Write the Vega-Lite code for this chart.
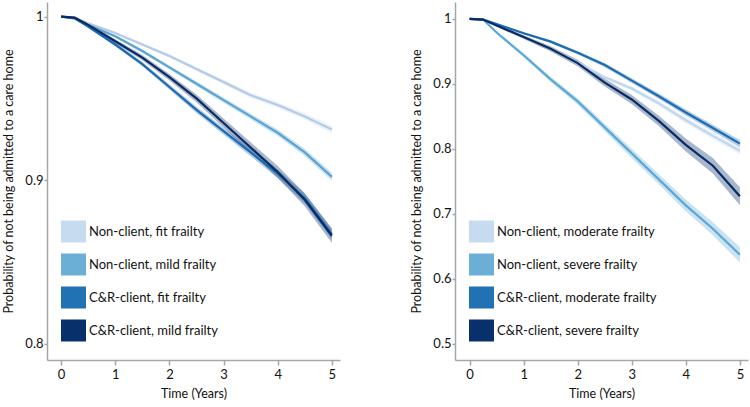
{
  "$schema": "https://vega.github.io/schema/vega-lite/v6.json",
  "padding": {"left": 2, "top": 2, "right": 2, "bottom": 2},
  "background": "white",
  "config": {
    "view": {"stroke": null},
    "font": "Lato",
    "axis": {
      "grid": false,
      "domainColor": "#a6a6a6",
      "domainWidth": 1.5,
      "tickColor": "#a6a6a6",
      "tickWidth": 1.5,
      "labelFont": "Lato",
      "labelFontSize": 13,
      "labelColor": "#111111",
      "titleFont": "Lato",
      "titleFontSize": 12.5,
      "titleFontWeight": "normal",
      "titleColor": "#111111"
    },
    "legend": {
      "orient": "bottom-left",
      "offset": 18,
      "padding": 0,
      "title": null,
      "symbolType": "M-1,-0.88H1V0.88H-1Z",
      "symbolSize": 625,
      "symbolStrokeWidth": 0,
      "symbolOffset": -4,
      "symbolOpacity": 1,
      "labelFont": "Lato",
      "labelFontSize": 13,
      "labelLimit": 300,
      "labelColor": "#111111",
      "labelOffset": 3,
      "rowPadding": 9
    }
  },
  "datasets": {
    "left": [
      {"t": 0, "v": 1, "lo": 1, "hi": 1, "g": "Non-client, fit frailty"},
      {"t": 0.25, "v": 0.9995, "lo": 0.9992, "hi": 0.9998, "g": "Non-client, fit frailty"},
      {"t": 0.5, "v": 0.996, "lo": 0.9955, "hi": 0.9965, "g": "Non-client, fit frailty"},
      {"t": 1, "v": 0.990, "lo": 0.9893, "hi": 0.9907, "g": "Non-client, fit frailty"},
      {"t": 1.5, "v": 0.983, "lo": 0.9821, "hi": 0.9839, "g": "Non-client, fit frailty"},
      {"t": 2, "v": 0.976, "lo": 0.9749, "hi": 0.9771, "g": "Non-client, fit frailty"},
      {"t": 2.5, "v": 0.968, "lo": 0.9667, "hi": 0.9693, "g": "Non-client, fit frailty"},
      {"t": 3, "v": 0.960, "lo": 0.9586, "hi": 0.9614, "g": "Non-client, fit frailty"},
      {"t": 3.5, "v": 0.952, "lo": 0.9504, "hi": 0.9536, "g": "Non-client, fit frailty"},
      {"t": 4, "v": 0.946, "lo": 0.9443, "hi": 0.9477, "g": "Non-client, fit frailty"},
      {"t": 4.5, "v": 0.939, "lo": 0.9371, "hi": 0.9409, "g": "Non-client, fit frailty"},
      {"t": 5, "v": 0.931, "lo": 0.9289, "hi": 0.9331, "g": "Non-client, fit frailty"},
      {"t": 0, "v": 1, "lo": 1, "hi": 1, "g": "Non-client, mild frailty"},
      {"t": 0.25, "v": 0.9993, "lo": 0.999, "hi": 0.9996, "g": "Non-client, mild frailty"},
      {"t": 0.5, "v": 0.995, "lo": 0.9945, "hi": 0.9955, "g": "Non-client, mild frailty"},
      {"t": 1, "v": 0.988, "lo": 0.9872, "hi": 0.9888, "g": "Non-client, mild frailty"},
      {"t": 1.5, "v": 0.979, "lo": 0.978, "hi": 0.980, "g": "Non-client, mild frailty"},
      {"t": 2, "v": 0.969, "lo": 0.9678, "hi": 0.9702, "g": "Non-client, mild frailty"},
      {"t": 2.5, "v": 0.959, "lo": 0.9576, "hi": 0.9604, "g": "Non-client, mild frailty"},
      {"t": 3, "v": 0.949, "lo": 0.9474, "hi": 0.9506, "g": "Non-client, mild frailty"},
      {"t": 3.5, "v": 0.939, "lo": 0.9372, "hi": 0.9408, "g": "Non-client, mild frailty"},
      {"t": 4, "v": 0.929, "lo": 0.927, "hi": 0.931, "g": "Non-client, mild frailty"},
      {"t": 4.5, "v": 0.917, "lo": 0.9148, "hi": 0.9192, "g": "Non-client, mild frailty"},
      {"t": 5, "v": 0.902, "lo": 0.8995, "hi": 0.9045, "g": "Non-client, mild frailty"},
      {"t": 0, "v": 1, "lo": 1, "hi": 1, "g": "C&R-client, fit frailty"},
      {"t": 0.25, "v": 0.999, "lo": 0.9986, "hi": 0.9994, "g": "C&R-client, fit frailty"},
      {"t": 0.5, "v": 0.994, "lo": 0.9933, "hi": 0.9947, "g": "C&R-client, fit frailty"},
      {"t": 1, "v": 0.983, "lo": 0.982, "hi": 0.984, "g": "C&R-client, fit frailty"},
      {"t": 1.5, "v": 0.971, "lo": 0.9697, "hi": 0.9723, "g": "C&R-client, fit frailty"},
      {"t": 2, "v": 0.957, "lo": 0.9554, "hi": 0.9586, "g": "C&R-client, fit frailty"},
      {"t": 2.5, "v": 0.943, "lo": 0.9411, "hi": 0.9449, "g": "C&R-client, fit frailty"},
      {"t": 3, "v": 0.930, "lo": 0.9279, "hi": 0.9321, "g": "C&R-client, fit frailty"},
      {"t": 3.5, "v": 0.917, "lo": 0.9146, "hi": 0.9194, "g": "C&R-client, fit frailty"},
      {"t": 4, "v": 0.904, "lo": 0.9014, "hi": 0.9066, "g": "C&R-client, fit frailty"},
      {"t": 4.5, "v": 0.889, "lo": 0.8861, "hi": 0.8919, "g": "C&R-client, fit frailty"},
      {"t": 5, "v": 0.867, "lo": 0.8638, "hi": 0.8702, "g": "C&R-client, fit frailty"},
      {"t": 0, "v": 1, "lo": 1, "hi": 1, "g": "C&R-client, mild frailty"},
      {"t": 0.25, "v": 0.9994, "lo": 0.9989, "hi": 0.9999, "g": "C&R-client, mild frailty"},
      {"t": 0.5, "v": 0.995, "lo": 0.9942, "hi": 0.9958, "g": "C&R-client, mild frailty"},
      {"t": 1, "v": 0.985, "lo": 0.9838, "hi": 0.9862, "g": "C&R-client, mild frailty"},
      {"t": 1.5, "v": 0.975, "lo": 0.9734, "hi": 0.9766, "g": "C&R-client, mild frailty"},
      {"t": 2, "v": 0.963, "lo": 0.961, "hi": 0.965, "g": "C&R-client, mild frailty"},
      {"t": 2.5, "v": 0.950, "lo": 0.9476, "hi": 0.9524, "g": "C&R-client, mild frailty"},
      {"t": 3, "v": 0.935, "lo": 0.9322, "hi": 0.9378, "g": "C&R-client, mild frailty"},
      {"t": 3.5, "v": 0.920, "lo": 0.9168, "hi": 0.9232, "g": "C&R-client, mild frailty"},
      {"t": 4, "v": 0.905, "lo": 0.9014, "hi": 0.9086, "g": "C&R-client, mild frailty"},
      {"t": 4.5, "v": 0.888, "lo": 0.884, "hi": 0.892, "g": "C&R-client, mild frailty"},
      {"t": 5, "v": 0.866, "lo": 0.8615, "hi": 0.8705, "g": "C&R-client, mild frailty"}
    ],
    "right": [
      {"t": 0, "v": 1, "lo": 1, "hi": 1, "g": "Non-client, moderate frailty"},
      {"t": 0.25, "v": 0.999, "lo": 0.9985, "hi": 0.9995, "g": "Non-client, moderate frailty"},
      {"t": 0.5, "v": 0.990, "lo": 0.989, "hi": 0.991, "g": "Non-client, moderate frailty"},
      {"t": 1, "v": 0.972, "lo": 0.9705, "hi": 0.9735, "g": "Non-client, moderate frailty"},
      {"t": 1.5, "v": 0.954, "lo": 0.952, "hi": 0.956, "g": "Non-client, moderate frailty"},
      {"t": 2, "v": 0.933, "lo": 0.9305, "hi": 0.9355, "g": "Non-client, moderate frailty"},
      {"t": 2.5, "v": 0.910, "lo": 0.907, "hi": 0.913, "g": "Non-client, moderate frailty"},
      {"t": 3, "v": 0.893, "lo": 0.8895, "hi": 0.8965, "g": "Non-client, moderate frailty"},
      {"t": 3.5, "v": 0.870, "lo": 0.866, "hi": 0.874, "g": "Non-client, moderate frailty"},
      {"t": 4, "v": 0.844, "lo": 0.8395, "hi": 0.8485, "g": "Non-client, moderate frailty"},
      {"t": 4.5, "v": 0.820, "lo": 0.815, "hi": 0.825, "g": "Non-client, moderate frailty"},
      {"t": 5, "v": 0.797, "lo": 0.7915, "hi": 0.8025, "g": "Non-client, moderate frailty"},
      {"t": 0, "v": 1, "lo": 1, "hi": 1, "g": "Non-client, severe frailty"},
      {"t": 0.25, "v": 0.999, "lo": 0.998, "hi": 1, "g": "Non-client, severe frailty"},
      {"t": 0.5, "v": 0.979, "lo": 0.977, "hi": 0.981, "g": "Non-client, severe frailty"},
      {"t": 1, "v": 0.944, "lo": 0.941, "hi": 0.947, "g": "Non-client, severe frailty"},
      {"t": 1.5, "v": 0.907, "lo": 0.903, "hi": 0.911, "g": "Non-client, severe frailty"},
      {"t": 2, "v": 0.873, "lo": 0.868, "hi": 0.878, "g": "Non-client, severe frailty"},
      {"t": 2.5, "v": 0.833, "lo": 0.827, "hi": 0.839, "g": "Non-client, severe frailty"},
      {"t": 3, "v": 0.793, "lo": 0.786, "hi": 0.800, "g": "Non-client, severe frailty"},
      {"t": 3.5, "v": 0.753, "lo": 0.745, "hi": 0.761, "g": "Non-client, severe frailty"},
      {"t": 4, "v": 0.713, "lo": 0.704, "hi": 0.722, "g": "Non-client, severe frailty"},
      {"t": 4.5, "v": 0.677, "lo": 0.667, "hi": 0.687, "g": "Non-client, severe frailty"},
      {"t": 5, "v": 0.637, "lo": 0.625, "hi": 0.649, "g": "Non-client, severe frailty"},
      {"t": 0, "v": 1, "lo": 1, "hi": 1, "g": "C&R-client, moderate frailty"},
      {"t": 0.25, "v": 0.999, "lo": 0.9985, "hi": 0.9995, "g": "C&R-client, moderate frailty"},
      {"t": 0.5, "v": 0.992, "lo": 0.991, "hi": 0.993, "g": "C&R-client, moderate frailty"},
      {"t": 1, "v": 0.978, "lo": 0.9765, "hi": 0.9795, "g": "C&R-client, moderate frailty"},
      {"t": 1.5, "v": 0.965, "lo": 0.963, "hi": 0.967, "g": "C&R-client, moderate frailty"},
      {"t": 2, "v": 0.948, "lo": 0.9455, "hi": 0.9505, "g": "C&R-client, moderate frailty"},
      {"t": 2.5, "v": 0.929, "lo": 0.926, "hi": 0.932, "g": "C&R-client, moderate frailty"},
      {"t": 3, "v": 0.905, "lo": 0.9015, "hi": 0.9085, "g": "C&R-client, moderate frailty"},
      {"t": 3.5, "v": 0.881, "lo": 0.877, "hi": 0.885, "g": "C&R-client, moderate frailty"},
      {"t": 4, "v": 0.856, "lo": 0.8515, "hi": 0.8605, "g": "C&R-client, moderate frailty"},
      {"t": 4.5, "v": 0.832, "lo": 0.827, "hi": 0.837, "g": "C&R-client, moderate frailty"},
      {"t": 5, "v": 0.808, "lo": 0.8025, "hi": 0.8135, "g": "C&R-client, moderate frailty"},
      {"t": 0, "v": 1, "lo": 1, "hi": 1, "g": "C&R-client, severe frailty"},
      {"t": 0.25, "v": 0.999, "lo": 0.998, "hi": 1, "g": "C&R-client, severe frailty"},
      {"t": 0.5, "v": 0.990, "lo": 0.988, "hi": 0.992, "g": "C&R-client, severe frailty"},
      {"t": 1, "v": 0.972, "lo": 0.969, "hi": 0.975, "g": "C&R-client, severe frailty"},
      {"t": 1.5, "v": 0.954, "lo": 0.950, "hi": 0.958, "g": "C&R-client, severe frailty"},
      {"t": 2, "v": 0.932, "lo": 0.927, "hi": 0.937, "g": "C&R-client, severe frailty"},
      {"t": 2.5, "v": 0.902, "lo": 0.896, "hi": 0.908, "g": "C&R-client, severe frailty"},
      {"t": 3, "v": 0.876, "lo": 0.869, "hi": 0.883, "g": "C&R-client, severe frailty"},
      {"t": 3.5, "v": 0.843, "lo": 0.835, "hi": 0.851, "g": "C&R-client, severe frailty"},
      {"t": 4, "v": 0.806, "lo": 0.796, "hi": 0.816, "g": "C&R-client, severe frailty"},
      {"t": 4.5, "v": 0.774, "lo": 0.762, "hi": 0.786, "g": "C&R-client, severe frailty"},
      {"t": 5, "v": 0.727, "lo": 0.713, "hi": 0.741, "g": "C&R-client, severe frailty"}
    ]
  },
  "spacing": 70,
  "resolve": {"scale": {"fill": "independent", "stroke": "independent", "x": "independent", "y": "independent"}, "legend": {"fill": "independent"}},
  "hconcat": [
    {
      "width": 293,
      "height": 358,
      "data": {"name": "left"},
      "encoding": {
        "x": {"field": "t", "type": "quantitative", "scale": {"domain": [-0.26, 5.15], "nice": false, "zero": false},
              "axis": {"title": "Time (Years)", "values": [0, 1, 2, 3, 4, 5], "format": "d", "tickSize": 5, "labelPadding": 3, "titlePadding": 6}},
        "y": {"field": "v", "type": "quantitative", "scale": {"domain": [0.79, 1.009], "nice": false, "zero": false},
              "axis": {"title": "Probability of not being admitted to a care home", "values": [0.8, 0.9, 1], "format": "~g", "tickSize": 3, "labelPadding": 1, "titlePadding": 9}}
      },
      "layer": [
        {
          "mark": {"type": "area", "fillOpacity": 0.35, "strokeWidth": 0},
          "encoding": {
            "y": {"field": "lo", "type": "quantitative"},
            "y2": {"field": "hi"},
            "fill": {"field": "g", "type": "nominal",
                     "scale": {"domain": ["Non-client, fit frailty", "Non-client, mild frailty", "C&R-client, fit frailty", "C&R-client, mild frailty"],
                               "range": ["#c6dbef", "#6baed6", "#2171b5", "#08306b"]},
                     "legend": {"symbolOpacity": 1, "encode": {"symbols": {"update": {"fillOpacity": {"value": 1}, "opacity": {"value": 1}}}}}}
          }
        },
        {
          "mark": {"type": "line", "strokeWidth": 2.2},
          "encoding": {
            "stroke": {"field": "g", "type": "nominal",
                       "scale": {"domain": ["Non-client, fit frailty", "Non-client, mild frailty", "C&R-client, fit frailty", "C&R-client, mild frailty"],
                                 "range": ["#b3cbe6", "#5aa4d2", "#1c6ab0", "#0a2a66"]},
                       "legend": null}
          }
        }
      ]
    },
    {
      "width": 293,
      "height": 358,
      "data": {"name": "right"},
      "encoding": {
        "x": {"field": "t", "type": "quantitative", "scale": {"domain": [-0.27, 5.15], "nice": false, "zero": false},
              "axis": {"title": "Time (Years)", "values": [0, 1, 2, 3, 4, 5], "format": "d", "tickSize": 5, "labelPadding": 3, "titlePadding": 6}},
        "y": {"field": "v", "type": "quantitative", "scale": {"domain": [0.475, 1.026], "nice": false, "zero": false},
              "axis": {"title": "Probability of not being admitted to a care home", "values": [0.5, 0.6, 0.7, 0.8, 0.9, 1], "format": "~g", "tickSize": 3, "labelPadding": 1, "titlePadding": 9}}
      },
      "layer": [
        {
          "mark": {"type": "area", "fillOpacity": 0.35, "strokeWidth": 0},
          "encoding": {
            "y": {"field": "lo", "type": "quantitative"},
            "y2": {"field": "hi"},
            "fill": {"field": "g", "type": "nominal",
                     "scale": {"domain": ["Non-client, moderate frailty", "Non-client, severe frailty", "C&R-client, moderate frailty", "C&R-client, severe frailty"],
                               "range": ["#c6dbef", "#6baed6", "#2171b5", "#08306b"]},
                     "legend": {"symbolOpacity": 1, "encode": {"symbols": {"update": {"fillOpacity": {"value": 1}, "opacity": {"value": 1}}}}}}
          }
        },
        {
          "mark": {"type": "line", "strokeWidth": 2.2},
          "encoding": {
            "stroke": {"field": "g", "type": "nominal",
                       "scale": {"domain": ["Non-client, moderate frailty", "Non-client, severe frailty", "C&R-client, moderate frailty", "C&R-client, severe frailty"],
                                 "range": ["#c0d6ee", "#5aa8d6", "#1d6cb2", "#0a2a66"]},
                       "legend": null}
          }
        }
      ]
    }
  ]
}
